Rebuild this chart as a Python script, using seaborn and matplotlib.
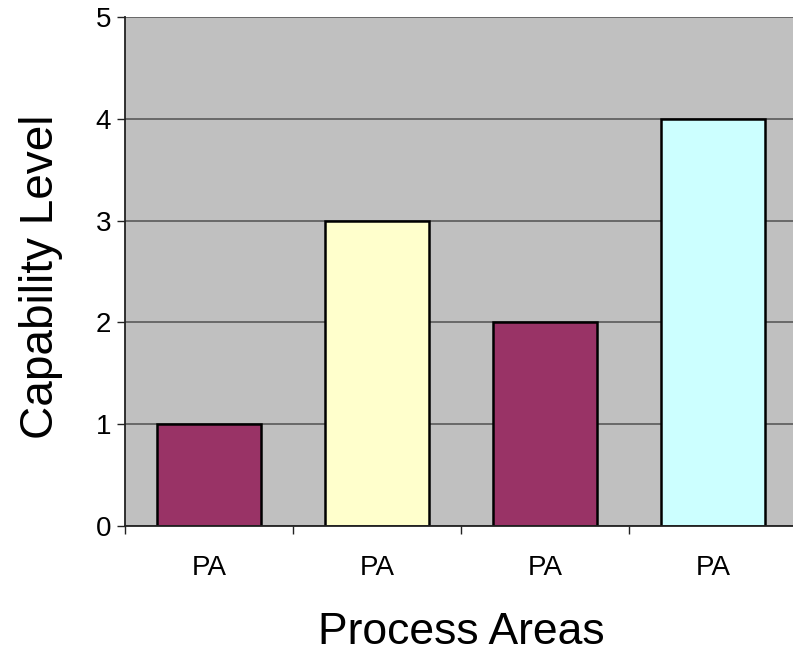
import matplotlib
matplotlib.use("Agg")
import matplotlib.pyplot as plt
import seaborn as sns
import pandas as pd
from matplotlib.ticker import FixedLocator

# chart data
areas = ["PA1", "PA2", "PA3", "PA4"]
tick_labels = ["PA", "PA", "PA", "PA"]
levels = [1, 3, 2, 4]
bar_colors = ["#993366", "#FFFFCC", "#993366", "#CCFFFF"]

df = pd.DataFrame({"area": areas, "level": levels})

sns.set_style("white")
plt.rcParams["font.family"] = ["Liberation Sans", "DejaVu Sans"]
plt.rcParams["text.color"] = "black"
plt.rcParams["axes.labelcolor"] = "black"
plt.rcParams["xtick.color"] = "black"
plt.rcParams["ytick.color"] = "black"

fig = plt.figure(figsize=(7.93, 6.55), dpi=100)
ax = fig.add_axes([0.1576, 0.1977, 0.8474, 0.7756])
ax.set_facecolor("#C0C0C0")

sns.barplot(data=df, x="area", y="level", hue="area", palette=bar_colors,
            legend=False, width=0.615, edgecolor="black", linewidth=1.8,
            saturation=1, ax=ax)

ax.set_xlim(-0.5, 3.5)
ax.set_ylim(0, 5)
ax.set_yticks([0, 1, 2, 3, 4, 5])
ax.yaxis.grid(True, color="#505050", linewidth=1.1)
ax.set_axisbelow(True)

# labels at centres, tick marks at the category boundaries
ax.set_xticks(range(len(areas)))
ax.set_xticklabels(tick_labels)
ax.xaxis.set_minor_locator(FixedLocator([-0.5, 0.5, 1.5, 2.5, 3.5]))
ax.tick_params(axis="x", which="major", length=0, pad=21, labelsize=20)
ax.tick_params(axis="x", which="minor", length=6, width=1, color="#222222",
               direction="out", bottom=True)
ax.tick_params(axis="y", length=6, width=1, color="#222222", direction="out",
               left=True, pad=4, labelsize=20)

for s in ["top", "right"]:
    ax.spines[s].set_visible(False)
for s in ["left", "bottom"]:
    ax.spines[s].set_color("#222222")
    ax.spines[s].set_linewidth(1.3)

ax.set_xlabel("Process Areas", fontsize=32, va="baseline")
ax.xaxis.set_label_coords(0.5, -0.233)
ax.set_ylabel("Capability Level", fontsize=33, va="baseline")
ax.yaxis.set_label_coords(-0.107, 0.49)

fig.savefig("out.png", dpi=100)
